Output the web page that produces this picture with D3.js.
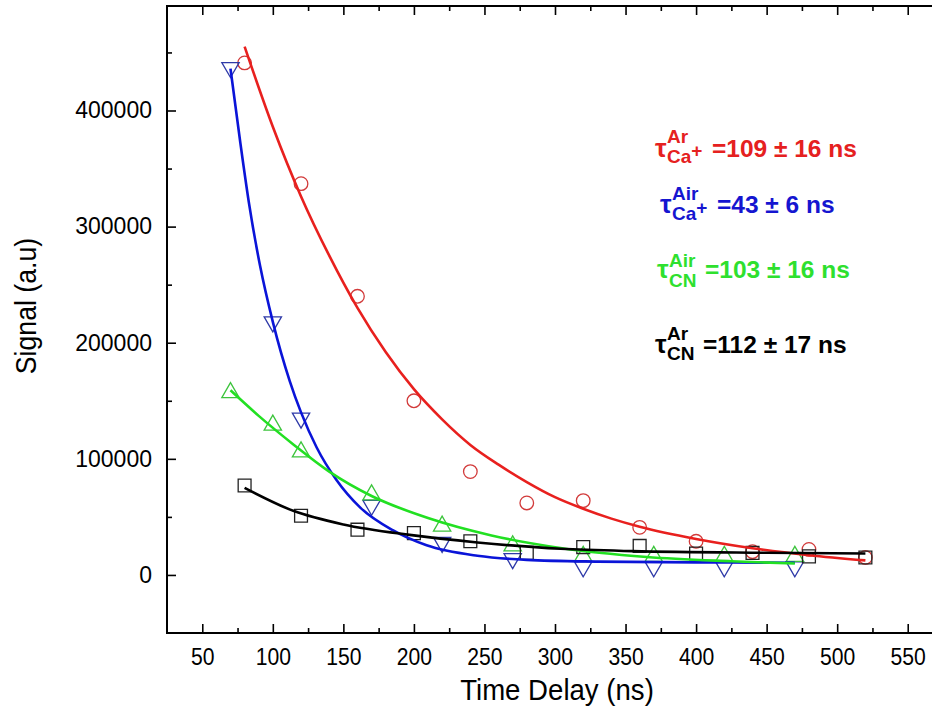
<!DOCTYPE html>
<html>
  <head>
    <meta charset="utf-8">
    <script src="https://d3js.org/d3.v7.min.js"></script>
    <style>
      body { margin: 0; background: #fff; }
    </style>
  </head>
  <body>
    <script type="text/javascript">
      "use strict";
      // tick labels
      var xTicks = [50, 100, 150, 200, 250, 300, 350, 400, 450, 500, 550];
      var yTicks = [0, 100000, 200000, 300000, 400000];

      // measured points (time delay in ns, signal in a.u.)
      var timeCaAr = [80, 120, 160, 200, 240, 280, 320, 360, 400, 440, 480, 520];
      var sigCaAr = [441000, 337000, 240000, 150000, 89000, 62000, 64000, 41000, 29000, 20000, 22000, 15000];
      var timeCaAir = [70, 100, 120, 170, 220, 270, 320, 370, 420, 470];
      var sigCaAir = [437000, 218000, 135000, 60000, 28000, 14000, 7000, 7000, 7000, 7000];
      var timeCNAir = [70, 100, 120, 170, 220, 270, 320, 370, 420, 470];
      var sigCNAir = [157000, 129000, 106000, 69000, 42000, 25000, 16000, 16000, 16000, 16000];
      var timeCNAr = [80, 120, 160, 200, 240, 280, 320, 360, 400, 440, 480, 520];
      var sigCNAr = [77000, 51000, 39000, 36000, 29000, 19000, 24000, 25000, 18500, 19000, 16000, 15000];

      // fitted decay curves
      var fitCaArX = [80, 100, 120, 140, 160, 180, 200, 220, 240, 260, 280, 300, 320, 340, 360, 400, 440, 480, 520];
      var fitCaArY = [455000, 386000, 326000, 275000, 230000, 192000, 160000, 134000, 112000, 95000, 80000, 67000, 57000, 48500, 41500, 31000, 23000, 17000, 12500];
      var fitCaAirX = [70, 77, 83, 91, 100, 112, 120, 131, 145, 162, 185, 209, 245, 280, 330, 400, 470];
      var fitCaAirY = [436000, 372000, 321000, 266000, 218000, 167000, 140000, 110000, 82000, 58000, 38500, 25500, 16500, 13000, 11500, 10800, 10500];
      var fitCNAirX = [70, 90, 115, 140, 170, 210, 255, 305, 365, 425, 470];
      var fitCNAirY = [159000, 137000, 112000, 89000, 68000, 49000, 34000, 23000, 15500, 11800, 9800];
      var fitCNArX = [80, 115, 150, 197, 245, 304, 355, 450, 520];
      var fitCNArY = [75000, 55000, 43500, 34500, 28000, 22500, 20500, 19100, 18500];

      // legend text
      var legSup = ["Ar", "Air", "Air", "Ar"];
      var legSub = ["Ca", "Ca", "CN", "CN"];
      var legPlus = [true, true, false, false];
      var legValue = ["=109 \u00b1 16 ns", "=43 \u00b1 6 ns", "=103 \u00b1 16 ns", "=112 \u00b1 17 ns"];

      var width = 932, height = 722;
      var plot = { left: 167, right: 943, top: 6, bottom: 633 };
      var font = "'Liberation Sans', Arial, sans-serif";

      var svg = d3.select("body").append("svg")
          .attr("width", width)
          .attr("height", height)
          .style("font-family", font);

      var x = d3.scaleLinear().domain([25, 575]).range([plot.left, plot.right]);
      var y = d3.scaleLinear().domain([-50000, 490000]).range([plot.bottom, plot.top]);

      var xMinor = d3.range(75, 575, 50);
      var yMinor = [50000, 150000, 250000, 350000, 450000];

      // axes, ticks pointing inward on all four sides
      var axisG = svg.append("g").attr("class", "axes");

      function styleAxis(g) {
        g.select(".domain").remove();
        g.selectAll(".tick line").attr("stroke", "#000").attr("stroke-width", 1.6);
      }

      axisG.append("g")
          .attr("transform", "translate(0," + plot.bottom + ")")
          .call(d3.axisBottom(x).tickValues(xTicks).tickSize(-9).tickPadding(16))
          .call(styleAxis)
          .selectAll("text")
            .style("font-family", font)
            .style("font-size", "23px")
            .attr("transform", "scale(0.92,1)")
            .attr("fill", "#000");
      axisG.append("g")
          .attr("transform", "translate(0," + plot.bottom + ")")
          .call(d3.axisBottom(x).tickValues(xMinor).tickSize(-5).tickFormat(""))
          .call(styleAxis);
      axisG.append("g")
          .attr("transform", "translate(0," + plot.top + ")")
          .call(d3.axisTop(x).tickValues(xTicks).tickSize(-9).tickFormat(""))
          .call(styleAxis);
      axisG.append("g")
          .attr("transform", "translate(0," + plot.top + ")")
          .call(d3.axisTop(x).tickValues(xMinor).tickSize(-5).tickFormat(""))
          .call(styleAxis);

      axisG.append("g")
          .attr("transform", "translate(" + plot.left + ",0)")
          .call(d3.axisLeft(y).tickValues(yTicks).tickSize(-9).tickPadding(15).tickFormat(d3.format("d")))
          .call(styleAxis)
          .selectAll("text")
            .style("font-family", font)
            .style("font-size", "23px")
            .attr("fill", "#000");
      axisG.append("g")
          .attr("transform", "translate(" + plot.left + ",0)")
          .call(d3.axisLeft(y).tickValues(yMinor).tickSize(-5).tickFormat(""))
          .call(styleAxis);
      axisG.append("g")
          .attr("transform", "translate(" + plot.right + ",0)")
          .call(d3.axisRight(y).tickValues(yTicks).tickSize(-9).tickFormat(""))
          .call(styleAxis);
      axisG.append("g")
          .attr("transform", "translate(" + plot.right + ",0)")
          .call(d3.axisRight(y).tickValues(yMinor).tickSize(-5).tickFormat(""))
          .call(styleAxis);

      // frame
      svg.append("rect")
          .attr("x", plot.left)
          .attr("y", plot.top)
          .attr("width", plot.right - plot.left)
          .attr("height", plot.bottom - plot.top)
          .attr("fill", "none")
          .attr("stroke", "#000")
          .attr("stroke-width", 2);

      // axis titles
      svg.append("text")
          .attr("transform", "translate(" + ((x(50) + x(550)) / 2 + 2) + ",700) scale(0.92,1)")
          .attr("text-anchor", "middle")
          .style("font-size", "30px")
          .text("Time Delay (ns)");
      svg.append("text")
          .attr("transform", "translate(36,306) rotate(-90) scale(0.92,1)")
          .attr("text-anchor", "middle")
          .style("font-size", "29px")
          .text("Signal (a.u)");

      // series definitions
      var series = [
        { xs: timeCaAr, ys: sigCaAr, fx: fitCaArX, fy: fitCaArY, symbol: d3.symbolCircle, size: 145, rot: 0,
          mark: "#d23a3a", line: "#e8201e" },
        { xs: timeCaAir, ys: sigCaAir, fx: fitCaAirX, fy: fitCaAirY, symbol: d3.symbolTriangle, size: 130, rot: 180,
          mark: "#2f3aa8", line: "#0a14d8" },
        { xs: timeCNAir, ys: sigCNAir, fx: fitCNAirX, fy: fitCNAirY, symbol: d3.symbolTriangle, size: 130, rot: 0,
          mark: "#3cc43c", line: "#22e022" },
        { xs: timeCNAr, ys: sigCNAr, fx: fitCNArX, fy: fitCNArY, symbol: d3.symbolSquare, size: 165, rot: 0,
          mark: "#222", line: "#000" }
      ];

      var markG = svg.append("g").attr("class", "markers");
      series.forEach(function (s) {
        var pts = s.xs.map(function (d, i) { return [d, s.ys[i]]; });
        markG.append("g").selectAll("path")
            .data(pts)
            .enter()
            .append("path")
              .attr("d", d3.symbol().type(s.symbol).size(s.size))
              .attr("transform", function (d) {
                return "translate(" + x(d[0]) + "," + y(d[1]) + ") rotate(" + s.rot + ")";
              })
              .attr("fill", "none")
              .attr("stroke", s.mark)
              .attr("stroke-width", 1.3);
      });

      var lineGen = d3.line()
          .x(function (d) { return x(d[0]); })
          .y(function (d) { return y(d[1]); })
          .curve(d3.curveMonotoneX);
      var fitG = svg.append("g").attr("class", "fits");
      series.forEach(function (s) {
        var pts = s.fx.map(function (d, i) { return [d, s.fy[i]]; });
        fitG.append("path")
            .datum(pts)
            .attr("d", lineGen)
            .attr("fill", "none")
            .attr("stroke", s.line)
            .attr("stroke-width", 2.6);
      });

      // legend with lifetimes
      var legColors = ["#e52020", "#1515d0", "#2ee02e", "#000"];
      var legBase = [157, 213, 278, 353];
      var legLeft = [655, 660, 657, 655];
      var legSupDy = [-14, -13, -11, -13];
      var legSubDy = [6, 7, 9, 7];
      var legG = svg.append("g").attr("class", "legend")
          .style("font-weight", "bold");
      legSup.forEach(function (sup, i) {
        var g = legG.append("g")
            .attr("transform", "translate(" + legLeft[i] + "," + legBase[i] + ")")
            .attr("fill", legColors[i]);
        g.append("text").attr("x", 0).attr("y", 0).style("font-size", "26px").text("\u03c4");
        g.append("text").attr("x", 12).attr("y", legSupDy[i]).style("font-size", "19px").text(sup);
        var sub = g.append("text").attr("x", 12).attr("y", legSubDy[i]).style("font-size", "19px").text(legSub[i]);
        if (legPlus[i]) {
          sub.append("tspan").attr("dy", -6).text("+");
        }
        var off = legPlus[i] ? 57 : 48;
        g.append("text").attr("x", off).attr("y", 0).style("font-size", "24.5px").text(legValue[i]);
      });
    </script>
  </body>
</html>
